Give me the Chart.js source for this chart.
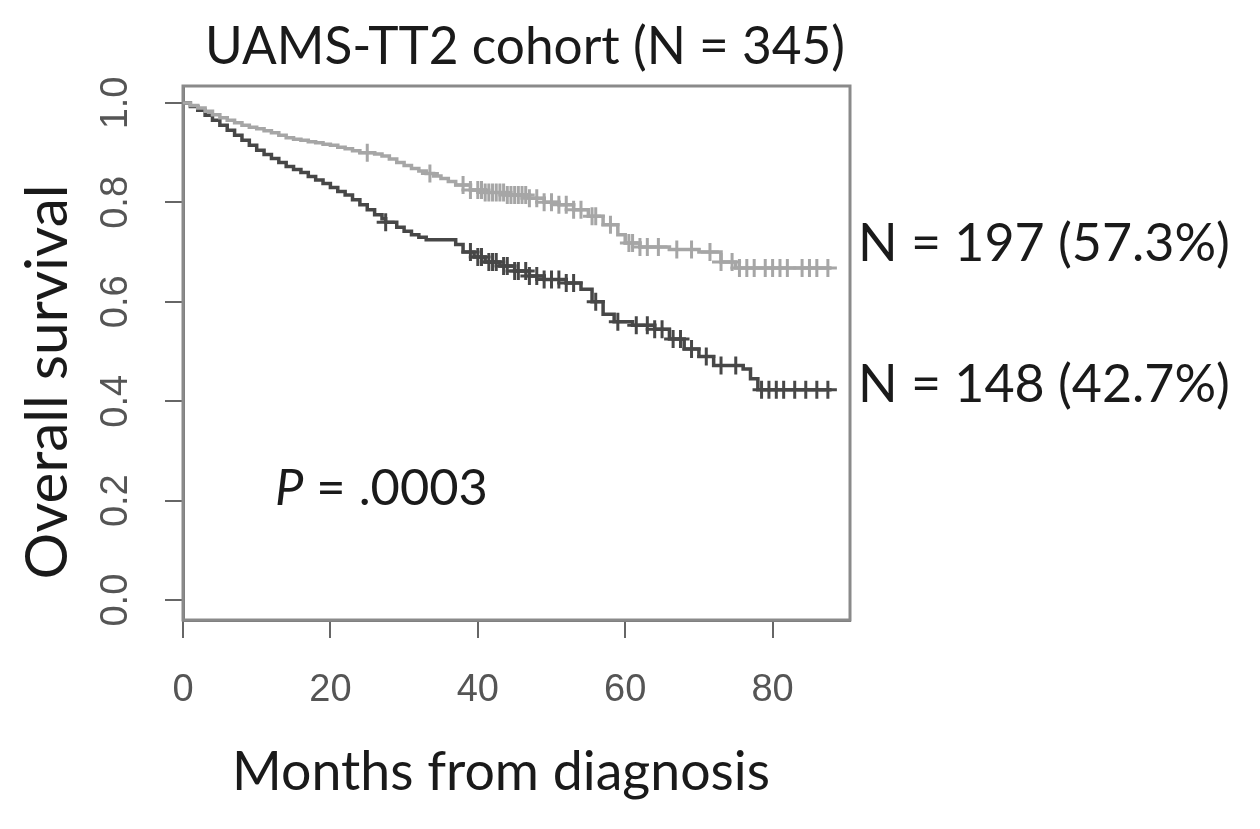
<!DOCTYPE html>
<html>
<head>
<meta charset="utf-8">
<script src="https://cdn.jsdelivr.net/npm/chart.js@4.4.1/dist/chart.umd.min.js"></script>
<style>
  html, body { margin: 0; padding: 0; background: #fff; }
  canvas { display: block; }
</style>
</head>
<body>
<canvas id="kmChart" width="1260" height="829"></canvas>
<script>
// Kaplan-Meier steps (months, overall survival)
const highTimes = [0, 1, 2, 3, 4, 5, 6, 7, 8, 9, 10, 11, 12, 13, 14, 15, 16, 17, 18, 19, 20, 21, 22, 23, 24, 26, 27, 28, 29, 30, 31, 32, 33, 34, 35, 36, 37, 39, 41, 44, 47, 49, 51, 53, 55, 57, 59, 60, 62, 66, 70, 73, 75, 88];
const highSurv = [1.0, 0.995, 0.99, 0.983, 0.976, 0.97, 0.965, 0.96, 0.955, 0.951, 0.948, 0.944, 0.94, 0.935, 0.93, 0.927, 0.925, 0.922, 0.92, 0.917, 0.915, 0.911, 0.908, 0.904, 0.9, 0.897, 0.893, 0.887, 0.88, 0.874, 0.868, 0.863, 0.858, 0.853, 0.848, 0.842, 0.835, 0.825, 0.82, 0.815, 0.808, 0.8, 0.795, 0.785, 0.772, 0.755, 0.735, 0.718, 0.71, 0.705, 0.7, 0.68, 0.668, 0.668];
const highCensor = [25, 33.5, 38, 39, 40, 40.5, 41, 41.5, 42, 42.5, 43, 43.5, 44, 44.5, 45, 45.5, 46, 46.5, 47, 48, 49, 50, 51, 52, 53, 54, 55.5, 56, 58, 60.5, 61, 62, 63, 64.5, 67, 69, 71.5, 73, 74.5, 75.5, 76.5, 77.5, 79, 80, 81, 82, 84, 85, 86, 87.5];

const lowTimes = [0, 1, 2, 3, 4, 5, 6, 7, 8, 9, 10, 11, 12, 13, 14, 15, 16, 17, 18, 19, 20, 21, 22, 23, 24, 25, 26, 27, 27.5, 29, 30, 31, 32, 33, 37, 38, 39.5, 41, 43, 45, 47, 49, 52, 54, 55.5, 57, 58.5, 61, 64, 66, 68, 70, 72, 76, 77, 78, 88];
const lowSurv = [1.0, 0.993, 0.985, 0.975, 0.965, 0.955, 0.945, 0.935, 0.925, 0.915, 0.905, 0.896, 0.888, 0.88, 0.872, 0.866, 0.86, 0.852, 0.845, 0.838, 0.83, 0.822, 0.815, 0.805, 0.795, 0.785, 0.775, 0.767, 0.76, 0.75, 0.742, 0.735, 0.73, 0.725, 0.715, 0.7, 0.69, 0.68, 0.672, 0.662, 0.652, 0.645, 0.638, 0.625, 0.6, 0.575, 0.56, 0.553, 0.545, 0.525, 0.505, 0.49, 0.472, 0.465, 0.445, 0.423, 0.423];
const lowCensor = [27.5, 39, 40, 40.5, 41.5, 42, 42.5, 43.5, 44, 45, 45.5, 46.5, 47, 48, 49, 50, 51, 52, 53, 56, 59, 61.5, 63, 64, 65, 66.5, 67.5, 69, 71, 73, 75, 78.5, 79.5, 80.5, 81.5, 83, 84.5, 86, 87.5];

const xTicks = [0, 20, 40, 60, 80];
const yTicks = [0, 0.2, 0.4, 0.6, 0.8, 1.0];

const chartTitle = 'UAMS-TT2 cohort (N = 345)';
const xTitle = 'Months from diagnosis';
const yTitle = 'Overall survival';
const groupLabels = ['N = 197 (57.3%)', 'N = 148 (42.7%)'];
const pValue = '.0003';

const HIGH_COLOR = '#a6a6a6';
const LOW_COLOR = '#474747';
const TEXT_FONT = 'Lato, "Open Sans", sans-serif';
const TICK_FONT = '"Liberation Sans Narrow", "Liberation Sans", Arial, sans-serif';

// survival value of a step curve at time t
function survAt(times, surv, t) {
    let s = surv[0];
    for (let i = 0; i < times.length; i++) {
        if (times[i] <= t) s = surv[i];
    }
    return s;
}

function toPoints(times, surv) {
    return times.map((t, i) => ({ x: t, y: surv[i] }));
}

function censorPoints(censor, times, surv) {
    return censor.map(t => ({ x: t, y: survAt(times, surv, t) }));
}

// font size that makes text span a given width
function fittedSize(ctx, text, width, style) {
    ctx.font = `${style} 40px ${TEXT_FONT}`;
    return 40 * width / ctx.measureText(text).width;
}

const textPlugin = {
    id: 'textLayer',
    beforeDatasetsDraw(chart) {
        const { ctx, chartArea } = chart;
        ctx.save();
        ctx.strokeStyle = '#8a8a8a';
        ctx.lineWidth = 3;
        ctx.strokeRect(chartArea.left, chartArea.top, chartArea.right - chartArea.left, chartArea.bottom - chartArea.top);
        ctx.restore();
    },
    afterDraw(chart) {
        const ctx = chart.ctx;
        ctx.save();
        ctx.fillStyle = '#1a1a1a';
        ctx.textBaseline = 'alphabetic';

        // main title
        let size = fittedSize(ctx, chartTitle, 640, 'normal');
        ctx.font = `${size}px ${TEXT_FONT}`;
        ctx.textAlign = 'center';
        ctx.fillText(chartTitle, 525, 64);

        // group labels at right
        ctx.textAlign = 'left';
        size = fittedSize(ctx, groupLabels[0], 372, 'normal');
        ctx.font = `${size}px ${TEXT_FONT}`;
        ctx.fillText(groupLabels[0], 858, 261);
        ctx.fillText(groupLabels[1], 858, 402);

        // P value, italic P
        ctx.font = `italic 40px ${TEXT_FONT}`;
        const pw0 = ctx.measureText('P').width;
        ctx.font = `40px ${TEXT_FONT}`;
        const rw0 = ctx.measureText(' = ' + pValue).width;
        size = 40 * 213 / (pw0 + rw0);
        ctx.font = `italic ${size}px ${TEXT_FONT}`;
        const pw = ctx.measureText('P').width;
        ctx.fillText('P', 275, 505);
        ctx.font = `${size}px ${TEXT_FONT}`;
        ctx.fillText(' = ' + pValue, 275 + pw, 505);

        // x axis title
        size = fittedSize(ctx, xTitle, 538, 'normal');
        ctx.font = `${size}px ${TEXT_FONT}`;
        ctx.textAlign = 'center';
        ctx.fillText(xTitle, 501, 790);

        // y axis title
        size = fittedSize(ctx, yTitle, 395, 'normal');
        ctx.font = `${size}px ${TEXT_FONT}`;
        ctx.translate(67, 382);
        ctx.rotate(-Math.PI / 2);
        ctx.fillText(yTitle, 0, 0);
        ctx.restore();
    }
};

const ctx = document.getElementById('kmChart').getContext('2d');
const kmChart = new Chart(ctx, {
    type: 'line',
    data: {
        datasets: [
            {
                label: 'high',
                data: toPoints(highTimes, highSurv),
                borderColor: HIGH_COLOR,
                borderWidth: 3.5,
                stepped: true,
                pointRadius: 0,
                fill: false
            },
            {
                label: 'low',
                data: toPoints(lowTimes, lowSurv),
                borderColor: LOW_COLOR,
                borderWidth: 3.5,
                stepped: true,
                pointRadius: 0,
                fill: false
            },
            {
                label: 'high censored',
                data: censorPoints(highCensor, highTimes, highSurv),
                showLine: false,
                pointStyle: 'cross',
                pointRadius: 9,
                pointBorderWidth: 3,
                pointBorderColor: HIGH_COLOR,
                borderColor: HIGH_COLOR
            },
            {
                label: 'low censored',
                data: censorPoints(lowCensor, lowTimes, lowSurv),
                showLine: false,
                pointStyle: 'cross',
                pointRadius: 9,
                pointBorderWidth: 3,
                pointBorderColor: LOW_COLOR,
                borderColor: LOW_COLOR
            }
        ]
    },
    options: {
        responsive: false,
        animation: false,
        devicePixelRatio: 1,
        layout: { padding: { left: 0, right: 410, top: 86, bottom: 0 } },
        plugins: {
            legend: { display: false },
            tooltip: { enabled: false },
            title: { display: false }
        },
        scales: {
            x: {
                type: 'linear',
                min: 0,
                max: 90.5,
                afterBuildTicks: scale => { scale.ticks = xTicks.map(v => ({ value: v })); },
                afterFit: scale => { scale.height = 829 - 620; },
                grid: { drawOnChartArea: false, drawTicks: true, tickLength: 18, color: '#666', lineWidth: 2 },
                border: { display: true, color: '#777', width: 3 },
                ticks: {
                    autoSkip: false,
                    maxRotation: 0,
                    padding: 30,
                    color: '#555',
                    font: { family: TICK_FONT, size: 38 },
                    callback: v => String(v)
                }
            },
            y: {
                type: 'linear',
                min: -0.04,
                max: 1.034,
                afterBuildTicks: scale => { scale.ticks = yTicks.map(v => ({ value: v })); },
                afterFit: scale => { scale.width = 183; },
                grid: { drawOnChartArea: false, drawTicks: true, tickLength: 18, color: '#666', lineWidth: 2 },
                border: { display: true, color: '#777', width: 3 },
                ticks: {
                    autoSkip: false,
                    minRotation: 90,
                    maxRotation: 90,
                    crossAlign: 'center',
                    padding: 22,
                    color: '#555',
                    font: { family: TICK_FONT, size: 38 },
                    callback: v => v.toFixed(1)
                }
            }
        }
    },
    plugins: [textPlugin]
});
</script>
</body>
</html>
